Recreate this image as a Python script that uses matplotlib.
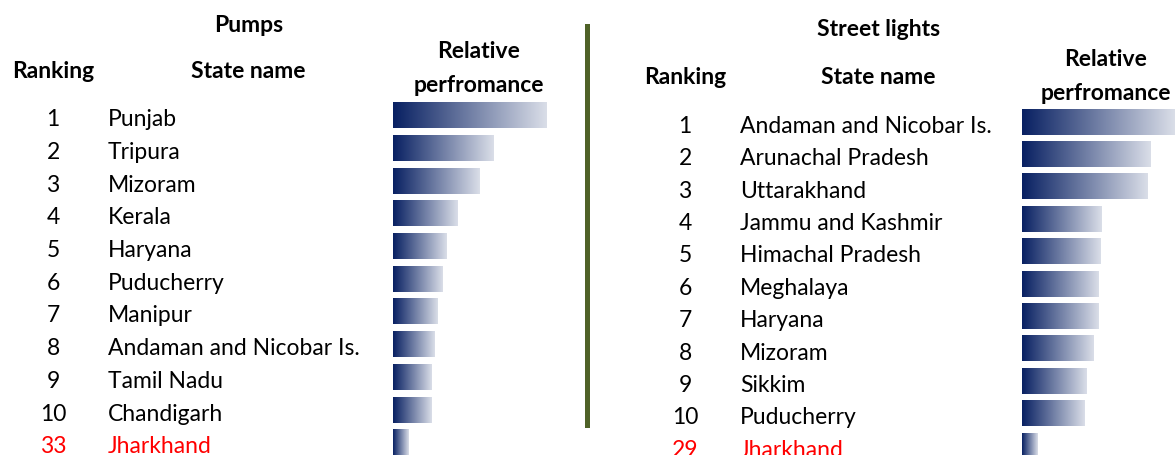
import numpy as np
import matplotlib.pyplot as plt
from matplotlib import transforms
from matplotlib.colors import LinearSegmentedColormap

# Pumps table
pump_ranks = ['1', '2', '3', '4', '5', '6', '7', '8', '9', '10', '33']
pump_states = ['Punjab', 'Tripura', 'Mizoram', 'Kerala', 'Haryana', 'Puducherry',
               'Manipur', 'Andaman and Nicobar Is.', 'Tamil Nadu', 'Chandigarh', 'Jharkhand']
pump_perf = [100, 65, 56, 42, 35, 32, 29, 27, 25, 25, 10]

# Street lights table
light_ranks = ['1', '2', '3', '4', '5', '6', '7', '8', '9', '10', '29']
light_states = ['Andaman and Nicobar Is.', 'Arunachal Pradesh', 'Uttarakhand', 'Jammu and Kashmir',
                'Himachal Pradesh', 'Meghalaya', 'Haryana', 'Mizoram', 'Sikkim', 'Puducherry', 'Jharkhand']
light_perf = [100, 84, 82, 52, 51, 50, 50, 47, 42, 41, 10]

plt.rcParams['font.family'] = ['Lato', 'DejaVu Sans']

W, H = 1175, 456
fig = plt.figure(figsize=(W / 100, H / 100), dpi=100)

grad = LinearSegmentedColormap.from_list('navy_fade', ['#082062', '#dadee8'])
ramp = np.linspace(0, 1, 256).reshape(1, -1)

ROW_FS = 16.5
HEAD_FS = 16.5


def px(x, y):
    # pixel position (from top-left) -> figure fraction
    return x / W, 1 - y / H


def panel(title, ranks, states, perf, title_y, head_y, rel_y, rank_x, name_x, bar_x, bar_w,
          row0, row_step, title_x, name_head_x, rel_x):
    n = len(ranks)
    # bar axes: row i sits at y = i, full value 100 spans bar_w pixels
    top = row0 - row_step / 2
    bottom = row0 + row_step * (n - 0.5)
    ax = fig.add_axes([bar_x / W, 1 - bottom / H, bar_w / W, (bottom - top) / H])
    ax.axis('off')
    for i, v in enumerate(perf):
        ax.imshow(ramp, cmap=grad, aspect='auto', extent=(0, v, i + 0.39, i - 0.39),
                  interpolation='bilinear', clip_on=False)
    ax.set_xlim(0, 100)
    ax.set_ylim(n - 0.5, -0.5)

    tr = transforms.blended_transform_factory(fig.transFigure, ax.transData)
    for i in range(n):
        col = 'red' if i == n - 1 else 'black'
        ax.text(rank_x / W, i + 0.1, ranks[i], transform=tr, ha='center', va='center',
                fontsize=ROW_FS, color=col, clip_on=False)
        ax.text(name_x / W, i + 0.1, states[i], transform=tr, ha='left', va='center',
                fontsize=ROW_FS, color=col, clip_on=False)

    fig.text(*px(title_x, title_y), title, ha='center', va='center', fontsize=HEAD_FS, fontweight='bold')
    fig.text(*px(rank_x, head_y), 'Ranking', ha='center', va='center', fontsize=HEAD_FS, fontweight='bold')
    fig.text(*px(name_head_x, head_y), 'State name', ha='center', va='center', fontsize=HEAD_FS, fontweight='bold')
    fig.text(*px(rel_x, rel_y[0]), 'Relative', ha='center', va='center', fontsize=HEAD_FS, fontweight='bold')
    fig.text(*px(rel_x, rel_y[1]), 'perfromance', ha='center', va='center', fontsize=HEAD_FS, fontweight='bold')


panel('Pumps', pump_ranks, pump_states, pump_perf, title_y=26, head_y=72, rel_y=(52, 86),
      rank_x=53, name_x=108, bar_x=393, bar_w=154, row0=116.5, row_step=32.7,
      title_x=249, name_head_x=248, rel_x=479)
panel('Street lights', light_ranks, light_states, light_perf, title_y=30, head_y=78, rel_y=(60, 93),
      rank_x=685, name_x=740, bar_x=1022, bar_w=153, row0=123, row_step=32.4,
      title_x=879, name_head_x=878, rel_x=1106)

# divider between the two tables
fig.add_artist(plt.Line2D([587 / W, 587 / W], [1 - 27 / H, 1 - 426 / H],
                          transform=fig.transFigure, color='#4f6228', linewidth=3.6))

fig.savefig('out.png', dpi=100, facecolor='white')
